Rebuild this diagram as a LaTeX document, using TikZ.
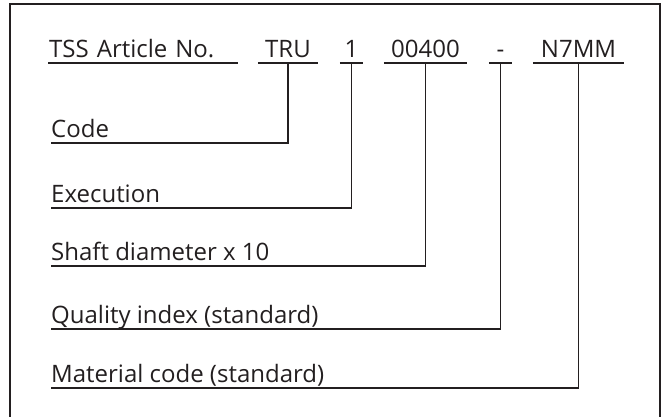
\documentclass[tikz,border=0pt]{standalone}
\usepackage{fontspec}
\setmainfont{Open Sans}
\usetikzlibrary{positioning}
\definecolor{tssink}{RGB}{35,31,32}

\begin{document}
\begin{tikzpicture}[x=1pt,y=-1pt,font=\fontsize{24}{28}\selectfont,
  field/.style={anchor=south,inner xsep=0pt,inner ysep=0pt,text depth=5pt,text=tssink},
  legend/.style={anchor=south west,inner sep=0pt,text depth=5pt,text=tssink},
  rule/.style={line width=1.3pt,draw=tssink}]
  \useasboundingbox (0,0) rectangle (661,417);
  \draw[line width=2pt,tssink] (10,420) -- (10,4) -- (660,4) -- (660,420);
  % article number, field by field
  \node[field,anchor=south west,text width=188pt,inner xsep=1pt] (tss) at (48,63) {TSS Article No.};
  \node[field,minimum width=60pt] (tru) at (288,63) {TRU};
  \node[field,minimum width=23pt] (one) at (351.5,63) {1};
  \node[field,minimum width=83pt] (num) at (425.5,63) {00400};
  \node[field,minimum width=23pt] (dash) at (500.5,63) {-};
  \node[field,minimum width=91pt] (mat) at (578.5,63) {N7MM};
  \foreach \n in {tss,tru,one,num,dash,mat}{\draw[rule] (\n.south west) -- (\n.south east);}
  % meaning of each field
  \node[legend] (code) at (51,143) {Code};
  \node[legend] (exec) at (51,208) {Execution};
  \node[legend] (shaft) at (51,266) {Shaft diameter x 10};
  \node[legend] (qual) at (51,329) {Quality index (standard)};
  \node[legend] (matc) at (51,388) {Material code (standard)};
  \draw[rule] (code.south west) -| (tru.south);
  \draw[rule] (exec.south west) -| (one.south);
  \draw[rule] (shaft.south west) -| (num.south);
  \draw[rule] (qual.south west) -| (dash.south);
  \draw[rule] (matc.south west) -| (mat.south);
\end{tikzpicture}
\end{document}
